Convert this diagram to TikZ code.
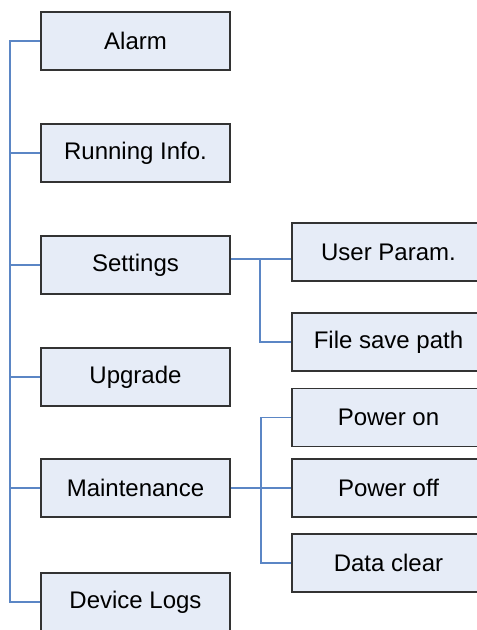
\documentclass[tikz,border=0pt]{standalone}
\usepackage{fontspec}
\setmainfont{Liberation Sans}
\begin{document}
\begin{tikzpicture}[x=1pt,y=1pt,
  box/.style={draw=black!80, fill=boxfill, line width=1.8pt, minimum height=58pt, inner sep=0pt, font=\fontsize{24}{28}\selectfont},
  lbox/.style={box, minimum width=189pt},
  rbox/.style={box, minimum width=193pt},
  conn/.style={draw=linkblue, line width=1.7pt}]
\definecolor{boxfill}{HTML}{E6ECF7}
\definecolor{linkblue}{HTML}{5B86C5}
\useasboundingbox (0,0) rectangle (477,-630);
% left column
\node[lbox] (alarm) at (135.5,-41) {Alarm};
\node[lbox] (run) at (135.5,-153) {Running Info.};
\node[lbox] (set) at (135.5,-265) {Settings};
\node[lbox] (upg) at (135.5,-377) {Upgrade};
\node[lbox] (mnt) at (135.5,-488) {Maintenance};
\node[lbox] (logs) at (135.5,-602) {Device Logs};
% right column
\node[rbox] (up) at (388.5,-252) {User Param.};
\node[rbox] (file) at (388.5,-342) {File save path};
\node[rbox] (pon) at (388.5,-417.5) {Power on};
\node[rbox] (poff) at (388.5,-488) {Power off};
\node[rbox] (clr) at (388.5,-563) {Data clear};
% spine
\coordinate (sp) at (10,0);
\draw[conn] (alarm.west) -- (alarm.west -| sp) -- (logs.west -| sp) -- (logs.west);
\draw[conn] (run.west) -- (run.west -| sp);
\draw[conn] (set.west) -- (set.west -| sp);
\draw[conn] (upg.west) -- (upg.west -| sp);
\draw[conn] (mnt.west) -- (mnt.west -| sp);
% settings branch
\coordinate (sj) at (260,-259);
\draw[conn] (set.east |- sj) -- (sj) -- (sj -| up.west);
\draw[conn] (sj) |- (file.west);
% maintenance branch
\coordinate (mj) at (261,-488);
\draw[conn] (mnt.east) -- (mj) -- (poff.west);
\draw[conn] (pon.west) -| (mj) |- (clr.west);
\end{tikzpicture}
\end{document}
